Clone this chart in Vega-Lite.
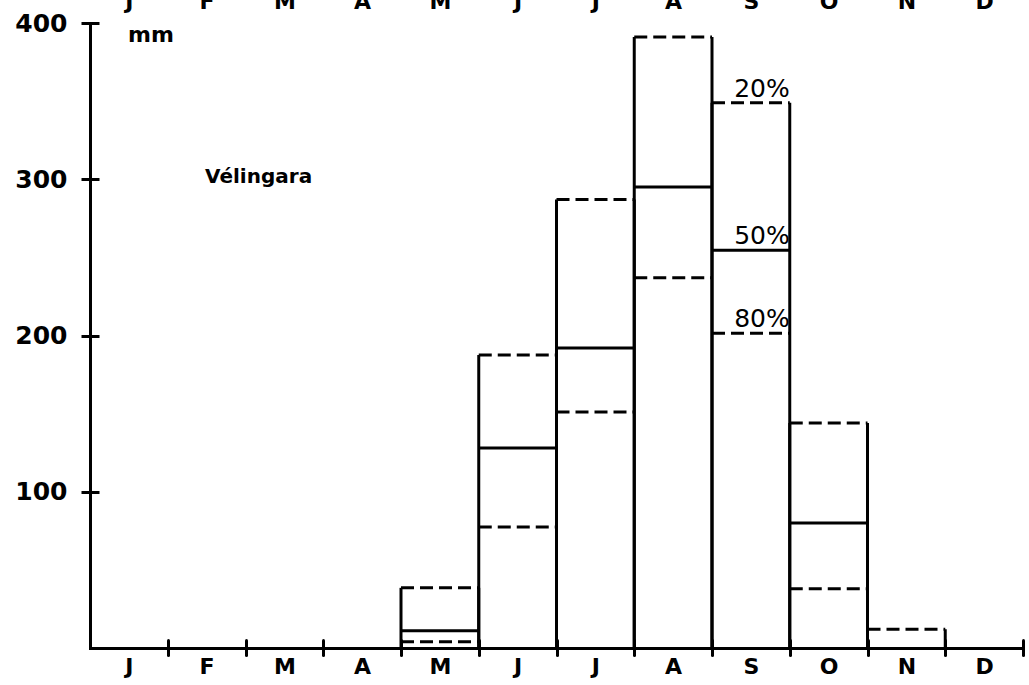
{
  "$schema": "https://vega.github.io/schema/vega-lite/v6.json",
  "width": 933,
  "height": 625,
  "autosize": {"type": "none"},
  "padding": {"left": 90, "top": 23, "right": 6, "bottom": 37},
  "background": "white",
  "config": {
    "view": {"stroke": null},
    "font": "DejaVu Sans",
    "axis": {
      "labelFont": "DejaVu Sans",
      "labelColor": "black",
      "domainColor": "black",
      "tickColor": "black",
      "grid": false,
      "title": null
    }
  },
  "data": {
    "values": [
      {"month": "May", "start": 4, "end": 5, "20%": 38.5, "50%": 11, "80%": 4},
      {"month": "Jun", "start": 5, "end": 6, "20%": 187.5, "50%": 128, "80%": 77.5},
      {"month": "Jul", "start": 6, "end": 7, "20%": 287, "50%": 192, "80%": 151},
      {"month": "Aug", "start": 7, "end": 8, "20%": 391, "50%": 295, "80%": 237},
      {"month": "Sep", "start": 8, "end": 9, "20%": 349, "50%": 254.5, "80%": 201.5},
      {"month": "Oct", "start": 9, "end": 10, "20%": 144, "50%": 80, "80%": 38},
      {"month": "Nov", "start": 10, "end": 11, "20%": 12, "50%": null, "80%": null}
    ]
  },
  "resolve": {"axis": {"x": "independent", "y": "independent"}},
  "layer": [
    {
      "transform": [
        {"fold": ["20%", "50%", "80%"], "as": ["level", "mm"]},
        {"filter": "datum.mm != null"}
      ],
      "mark": {"type": "rule", "strokeWidth": 3, "color": "black"},
      "encoding": {
        "x": {
          "field": "start",
          "type": "quantitative",
          "scale": {"domain": [0, 12], "nice": false, "zero": false},
          "axis": {
            "orient": "bottom",
            "values": [0.5, 1.5, 2.5, 3.5, 4.5, 5.5, 6.5, 7.5, 8.5, 9.5, 10.5, 11.5],
            "labelExpr": "['J','F','M','A','M','J','J','A','S','O','N','D'][floor(datum.value)]",
            "ticks": false,
            "domain": true,
            "domainWidth": 3,
            "domainCap": "square",
            "labelFontSize": 22,
            "labelFontWeight": "bold",
            "labelPadding": 8,
            "labelAngle": 0
          }
        },
        "x2": {"field": "end"},
        "y": {
          "field": "mm",
          "type": "quantitative",
          "scale": {"domain": [0, 400], "nice": false},
          "axis": {
            "orient": "left",
            "domain": true,
            "domainWidth": 3,
            "domainCap": "square",
            "ticks": false,
            "labels": false
          }
        },
        "strokeDash": {
          "field": "level",
          "type": "nominal",
          "scale": {"domain": ["20%", "50%", "80%"], "range": [[13, 6], [1, 0], [13, 6]]},
          "legend": null
        }
      }
    },
    {
      "transform": [{"fold": ["start", "end"], "as": ["side", "edge"]}],
      "mark": {"type": "rule", "strokeWidth": 3, "color": "black"},
      "encoding": {
        "x": {
          "field": "edge",
          "type": "quantitative",
          "axis": {
            "orient": "bottom",
            "values": [1, 2, 3, 4, 5, 6, 7, 8, 9, 10, 11, 12],
            "tickSize": 15,
            "offset": -8,
            "tickWidth": 3,
            "tickCap": "round",
            "labels": false,
            "domain": false
          }
        },
        "y": {
          "field": "20%",
          "type": "quantitative",
          "axis": {
            "orient": "left",
            "values": [100, 200, 300, 400],
            "tickSize": 18,
            "offset": -9,
            "tickWidth": 3,
            "domain": false,
            "labelFontSize": 25,
            "labelFontWeight": "bold",
            "labelPadding": 14
          }
        },
        "y2": {"datum": 0}
      }
    },
    {
      "transform": [
        {"filter": "datum.month == 'Sep'"},
        {"fold": ["20%", "50%", "80%"], "as": ["level", "mm"]}
      ],
      "mark": {"type": "text", "align": "right", "baseline": "alphabetic", "dy": -6, "fontSize": 25, "font": "DejaVu Sans", "color": "black"},
      "encoding": {
        "x": {
          "field": "end",
          "type": "quantitative",
          "axis": {
            "orient": "top",
            "values": [0.5, 1.5, 2.5, 3.5, 4.5, 5.5, 6.5, 7.5, 8.5, 9.5, 10.5, 11.5],
            "labelExpr": "['J','F','M','A','M','J','J','A','S','O','N','D'][floor(datum.value)]",
            "ticks": false,
            "domain": false,
            "labelFontSize": 22,
            "labelFontWeight": "bold",
            "labelPadding": 10,
            "labelAngle": 0
          }
        },
        "y": {"field": "mm", "type": "quantitative", "axis": null},
        "text": {"field": "level"}
      }
    },
    {
      "data": {"values": [{"station": "Vélingara"}]},
      "mark": {"type": "text", "align": "left", "baseline": "alphabetic", "fontSize": 20, "fontWeight": "bold", "font": "DejaVu Sans", "color": "black"},
      "encoding": {
        "x": {"datum": 1.48, "type": "quantitative", "axis": null},
        "y": {"datum": 297.6, "type": "quantitative", "axis": null},
        "text": {"field": "station"}
      }
    },
    {
      "data": {"values": [{"unit": "mm"}]},
      "mark": {"type": "text", "align": "left", "baseline": "alphabetic", "fontSize": 22, "fontWeight": "bold", "font": "DejaVu Sans", "color": "black"},
      "encoding": {
        "x": {"datum": 0.49, "type": "quantitative", "axis": null},
        "y": {"datum": 388, "type": "quantitative", "axis": null},
        "text": {"field": "unit"}
      }
    }
  ]
}
